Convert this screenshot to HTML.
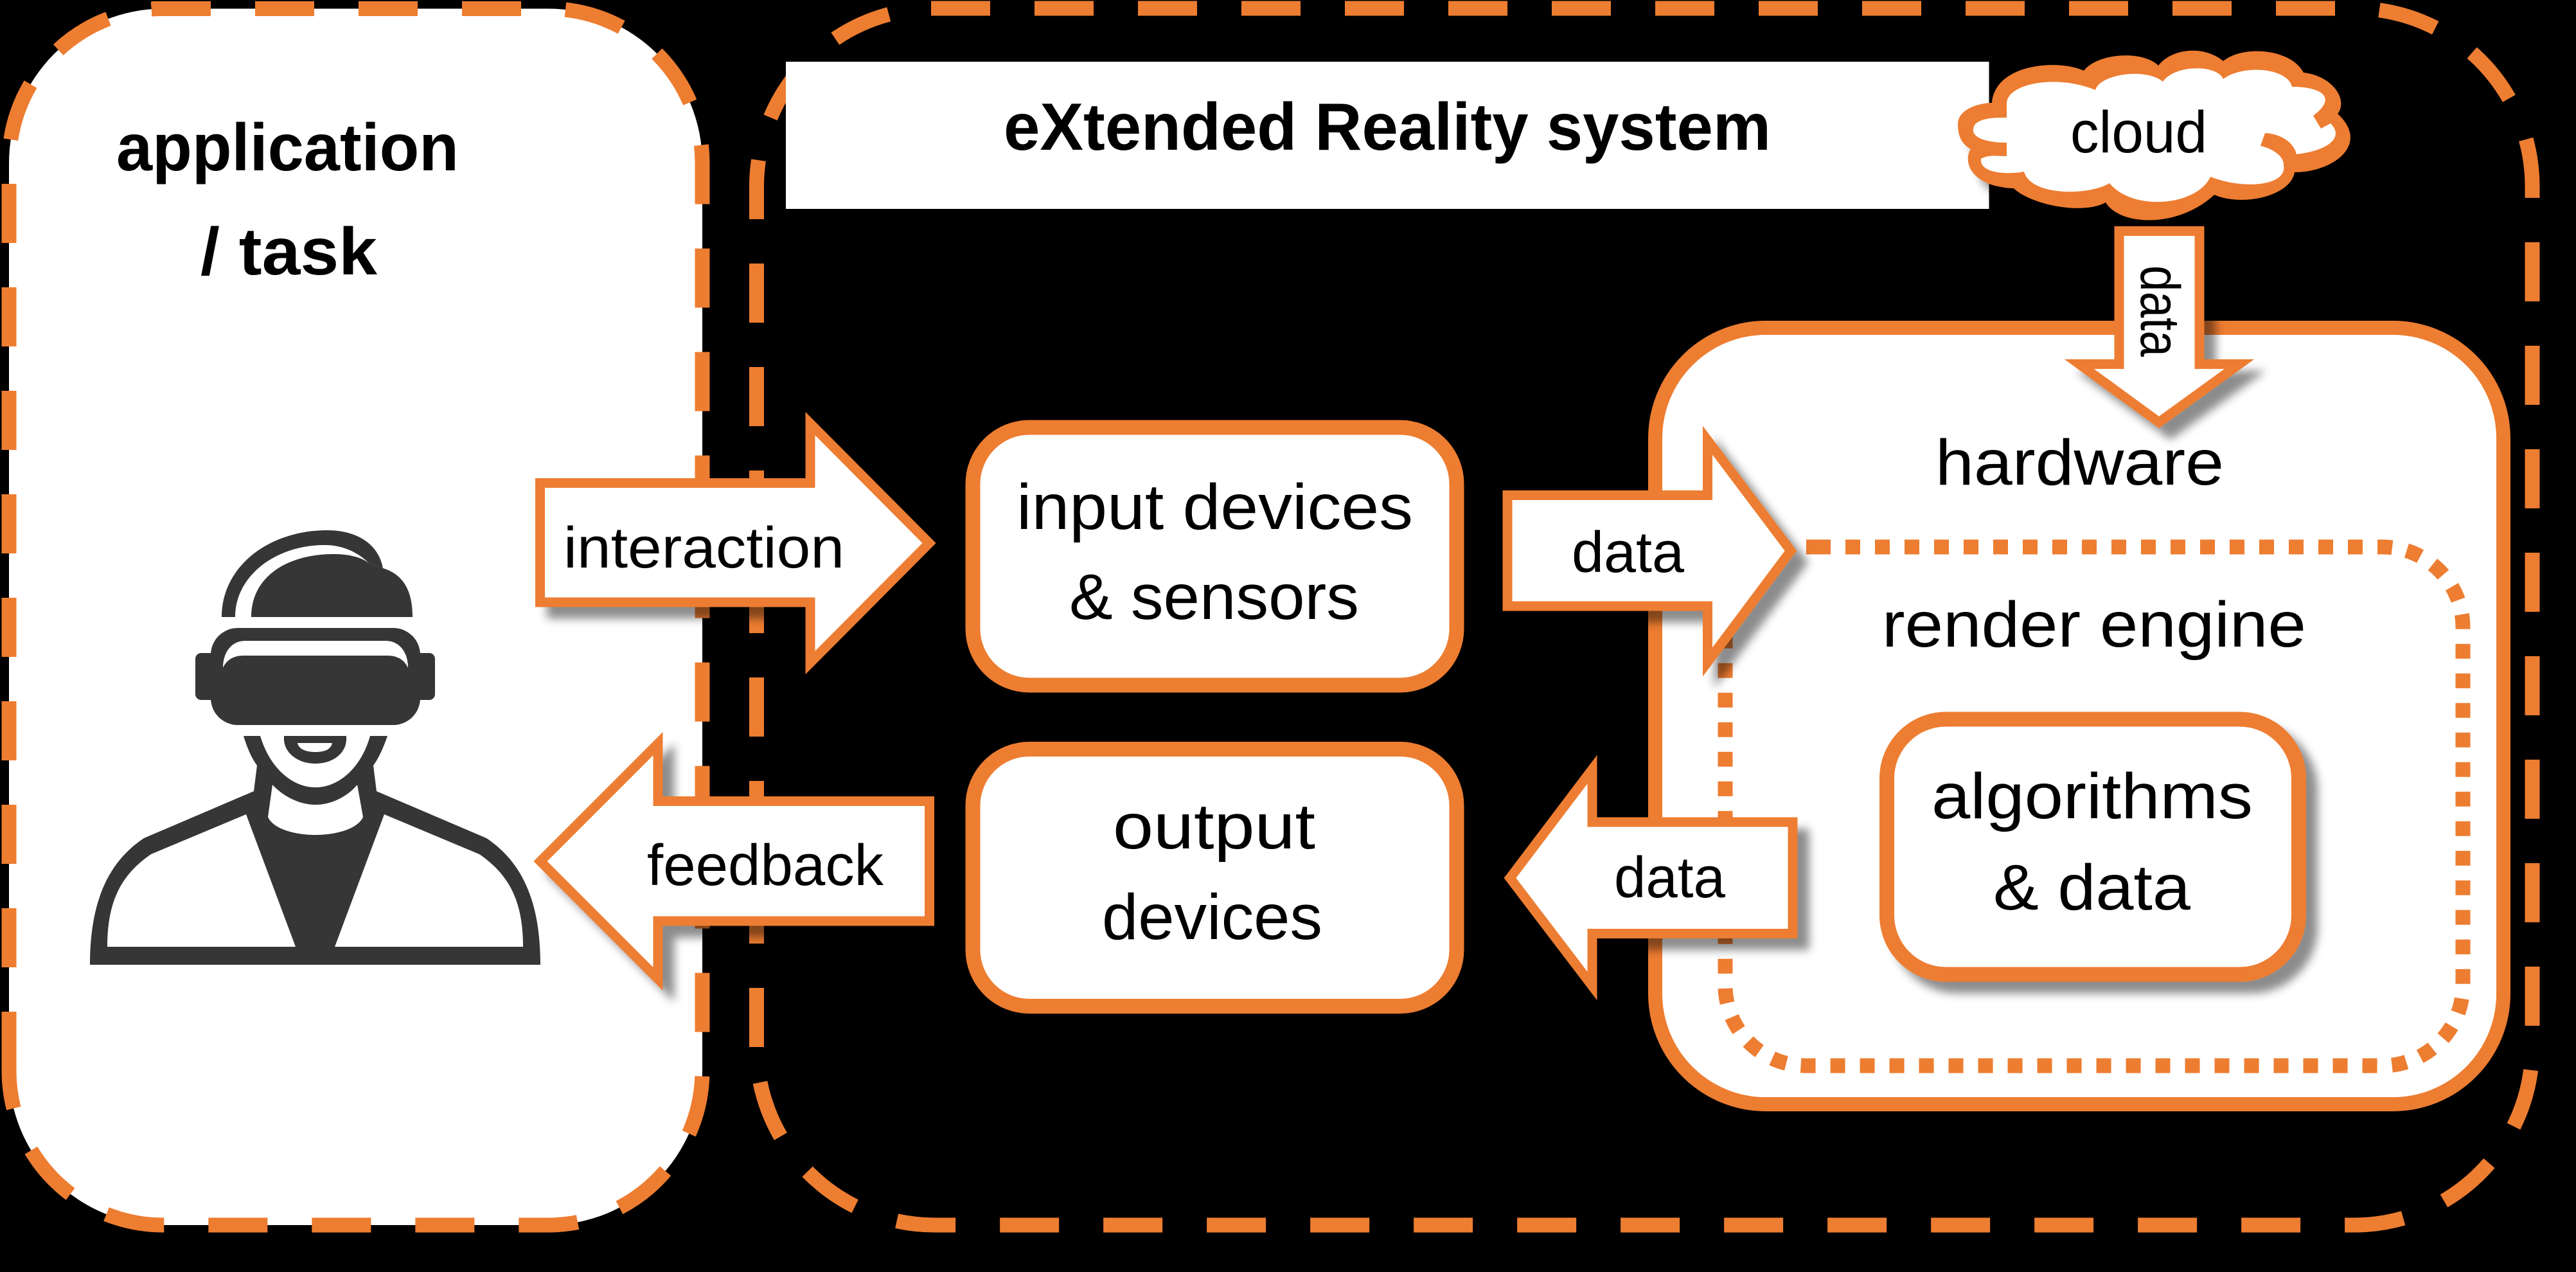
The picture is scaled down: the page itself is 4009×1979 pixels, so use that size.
<!DOCTYPE html>
<html><head><meta charset="utf-8"><style>
html,body{margin:0;padding:0;background:#000}
svg{display:block}
text{font-family:"Liberation Sans",sans-serif;fill:#000}
</style></head><body>
<svg xmlns="http://www.w3.org/2000/svg" width="4009" height="1979" viewBox="0 0 4009 1979">
<defs>
<filter id="s" x="-15%" y="-15%" width="135%" height="135%"><feDropShadow dx="18" dy="18" stdDeviation="7" flood-color="#000" flood-opacity="0.45"/></filter>
</defs>
<rect width="4009" height="1979" fill="#000"/>

<!-- left box -->
<rect x="14" y="13.5" width="1079" height="1892.5" rx="240" fill="#fff"/>
<g fill="none" stroke="#ED7D31" stroke-width="23">
<path stroke-dasharray="92 69" d="M236,13.5 H853 A240 240 0 0 1 1093,253.5 V1666 A240 240 0 0 1 853,1906 H254 A240 240 0 0 1 163,1888"/>
<path stroke-dasharray="92 71 151 69 92 69 92 69 92 69 92 69 92 69 92 69 92 69 92 69 92 69 92 69 92 69" d="M109.6,1857.7 A240 240 0 0 1 14,1666 V253.5 A240 240 0 0 1 254,13.5"/>
<!-- right big box -->
<path stroke-dasharray="92 69" d="M1449,13 H3664 A277 277 0 0 1 3941,290 V1629 A277 277 0 0 1 3664,1906 H1454.5 A277 277 0 0 1 1183,1684"/>
<path stroke-dasharray="92 69" d="M1177.5,1629 V290 A277 277 0 0 1 1454.5,13"/>
</g>

<text x="181" y="265" font-size="104" font-weight="bold" textLength="533" lengthAdjust="spacingAndGlyphs">application</text>
<text x="312" y="427" font-size="104" font-weight="bold" textLength="275" lengthAdjust="spacingAndGlyphs">/ task</text>

<!-- person -->
<g fill="#363636">
<path d="M345,960 C345,880 420,825 509,825 C560,825 590,850 596,884 L575,877 C555,857 530,848 505,848 C430,848 366,895 366,960 Z"/>
<path d="M391,960 C391,895 450,862 519,862 C545,862 565,868 575,877 L596,884 C625,893 642,915 642,960 Z"/>
<rect x="304" y="1016" width="373" height="73" rx="9"/>
<rect x="328" y="977" width="326" height="151" rx="42"/>
<path fill="#fff" d="M347,1039 C347,1015 360,997 382,997 H600 C622,997 635,1015 635,1039 C630,1028 620,1020 603,1020 H379 C362,1020 352,1028 347,1039 Z"/>
<path d="M379,1145 C385,1165 392,1180 400,1191 L395,1231 L224,1304 C170,1340 140,1400 140,1501 H841 C841,1400 811,1340 757,1304 L586,1231 L581,1191 C589,1180 596,1165 603,1145 H576 C562,1195 527,1225 491,1225 C455,1225 420,1195 405,1145 Z"/>
<path fill="#fff" d="M424,1221 L417,1271 C425,1290 460,1299 491,1299 C522,1299 557,1290 565,1271 L556,1221 C540,1240 515,1252 491,1252 C467,1252 442,1240 424,1221 Z"/>
<path fill="#fff" d="M383,1267 L235,1329 C190,1360 167,1400 167,1473 H460 Z"/>
<path fill="#fff" d="M598,1267 L746,1329 C791,1360 814,1400 814,1473 H521 Z"/>
<path d="M442,1145 H539 V1150 C539,1170 520,1188 491,1188 C462,1188 442,1170 442,1150 Z"/>
<path fill="#fff" d="M463,1156 H517 C515,1166 505,1170 491,1170 C477,1170 465,1166 463,1156 Z"/>
</g>

<!-- title -->
<rect x="1223" y="96" width="1872.5" height="229" fill="#fff"/>
<text x="1562" y="233" font-size="104" font-weight="bold" textLength="1194" lengthAdjust="spacingAndGlyphs">eXtended Reality system</text>

<!-- cloud -->
<g filter="url(#s)">
<path fill="#ED7D31" d="M3100,160 C3080,160 3047,170 3047,193 C3047,215 3055,225 3067,232 C3055,250 3065,290 3134,293 C3160,318 3240,335 3277,315 C3300,352 3390,355 3446,303 C3490,322 3565,305 3571,268 C3630,268 3690,225 3638,177 C3655,155 3630,118 3585,113 C3565,75 3490,70 3460,95 C3430,70 3380,75 3359,102 C3335,78 3265,82 3243,110 C3205,92 3105,98 3100,160 Z"/>
</g>
<path fill="#fff" d="M3123,160 C3125,130 3200,115 3261,140 C3268,115 3340,105 3366,127 C3385,100 3450,100 3460,123 C3490,100 3560,105 3567,135 C3610,135 3640,150 3600,180 L3612,200 L3627,192 C3650,215 3620,235 3574,240 C3570,222 3550,208 3525,207 L3518,227 C3540,232 3555,245 3554,257 C3560,290 3490,295 3440,275 C3420,320 3320,330 3283,285 C3250,305 3160,305 3150,267 C3125,272 3080,270 3083,247 C3095,240 3110,243 3123,243 V222 C3095,222 3060,215 3074,193 C3085,183 3105,183 3123,183 Z"/>
<text x="3222" y="237" font-size="92" textLength="213" lengthAdjust="spacingAndGlyphs">cloud</text>

<!-- hardware -->
<rect x="2576" y="510" width="1320" height="1208" rx="172" fill="#fff" stroke="#ED7D31" stroke-width="22"/>
<text x="3012" y="754" font-size="100" textLength="449" lengthAdjust="spacingAndGlyphs">hardware</text>
<!-- render engine dotted -->
<path fill="none" stroke="#ED7D31" stroke-width="23" stroke-dasharray="23 23" d="M2826,851 H3708 A125 125 0 0 1 3833,976 V1533 A125 125 0 0 1 3708,1658 H2810 A125 125 0 0 1 2685,1533 V976 A125 125 0 0 1 2810,851 H2826"/>
<text x="2929" y="1006" font-size="100" textLength="660" lengthAdjust="spacingAndGlyphs">render engine</text>
<!-- algorithms -->
<rect x="2936.5" y="1119" width="641" height="397" rx="92" fill="#fff" stroke="#ED7D31" stroke-width="23" filter="url(#s)"/>
<text x="3006" y="1273" font-size="100" textLength="500" lengthAdjust="spacingAndGlyphs">algorithms</text>
<text x="3102" y="1415" font-size="100" textLength="307" lengthAdjust="spacingAndGlyphs">&amp; data</text>

<!-- input / output -->
<rect x="1514" y="665" width="753" height="401" rx="88" fill="#fff" stroke="#ED7D31" stroke-width="23"/>
<text x="1582" y="823" font-size="100" textLength="617" lengthAdjust="spacingAndGlyphs">input devices</text>
<text x="1664" y="963" font-size="100" textLength="451" lengthAdjust="spacingAndGlyphs">&amp; sensors</text>
<rect x="1514" y="1165.5" width="753" height="400" rx="88" fill="#fff" stroke="#ED7D31" stroke-width="23"/>
<text x="1732" y="1320" font-size="100" textLength="315" lengthAdjust="spacingAndGlyphs">output</text>
<text x="1715" y="1461" font-size="100" textLength="343" lengthAdjust="spacingAndGlyphs">devices</text>

<!-- arrows -->
<g fill="#fff" stroke="#ED7D31" stroke-width="15" stroke-miterlimit="12">
<polygon filter="url(#s)" points="840.5,751.5 1261,751.5 1261,659 1446,845 1261,1031 1261,937 840.5,937"/>
<polygon filter="url(#s)" points="1446.5,1246.5 1024,1246.5 1024,1157 841,1340 1024,1523 1024,1433 1446.5,1433"/>
<polygon filter="url(#s)" points="2346,770.5 2657.5,770.5 2657.5,685 2787,857 2657.5,1030 2657.5,943 2346,943"/>
<polygon filter="url(#s)" points="2790,1279 2478,1279 2478,1197 2350,1366 2478,1534 2478,1452.5 2790,1452.5"/>
<polygon filter="url(#s)" points="3298,359.5 3423,359.5 3423,566.5 3485,566.5 3360,657 3236,566.5 3298,566.5"/>
</g>
<text x="877" y="883" font-size="90" textLength="437" lengthAdjust="spacingAndGlyphs">interaction</text>
<text x="1007" y="1377" font-size="90" textLength="368" lengthAdjust="spacingAndGlyphs">feedback</text>
<text x="2446" y="890" font-size="90" textLength="175" lengthAdjust="spacingAndGlyphs">data</text>
<text x="2512" y="1396" font-size="90" textLength="173" lengthAdjust="spacingAndGlyphs">data</text>
<text transform="translate(3332,413) rotate(90)" font-size="86" textLength="142" lengthAdjust="spacingAndGlyphs">data</text>
</svg>
</body></html>
